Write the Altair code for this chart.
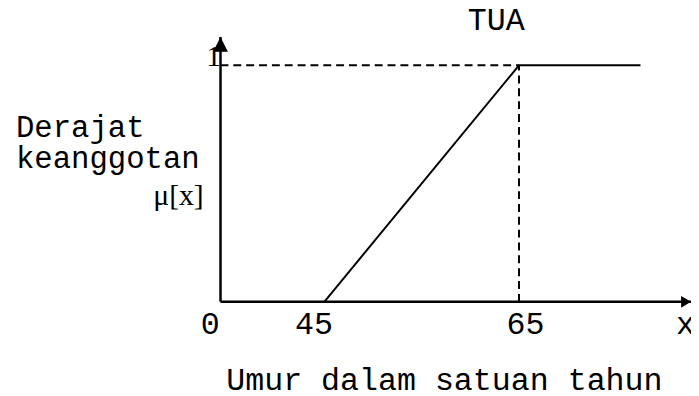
import altair as alt
import pandas as pd

# ---- data ----
x_ticks = [0, 45, 65]
x_end = 82.7            # end of the x axis (arrow tip)
y_end = 1.12            # end of the y axis (arrow tip)
y_ticks = [1]

curve_x = [45, 65, 77.5]
curve_y = [0, 1, 1]

guide_seg = ["h", "h", "v", "v"]
guide_x = [0, 65, 65, 65]
guide_y = [1, 1, 0, 1]

title_top = "TUA"
ylab_lines = ["Derajat", "keanggotan"]
ylab_mu = "μ[x]"
x_title = "Umur dalam satuan tahun"

MONO = "Liberation Mono"
SERIF = "Liberation Serif"
FS = 32

xscale = alt.Scale(domain=[0, 45, 65, x_end], range=[0, 105, 302, 476], nice=False, zero=False)
yscale = alt.Scale(domain=[0, y_end], nice=False, zero=False)

curve_df = pd.DataFrame({"x": curve_x, "y": curve_y})
guide_df = pd.DataFrame({"seg": guide_seg, "x": guide_x, "y": guide_y})
axes_df = pd.DataFrame({"seg": ["xa", "xa", "ya", "ya"],
                        "x": [0, x_end, 0, 0],
                        "y": [0, 0, 0, y_end]})
arrow_y = pd.DataFrame({"x": [0], "y": [y_end]})
arrow_x = pd.DataFrame({"x": [x_end], "y": [0]})

x_axis = alt.Axis(values=x_ticks + [x_end],
                  labelExpr="datum.value > 80 ? 'x' : datum.label",
                  labelFont=MONO, labelFontSize=FS, labelColor="black",
                  labelPadding=7, labelBaseline="top",
                  labelOffset={"condition": [{"test": "datum.value == 65", "value": 6},
                                             {"test": "datum.value > 80", "value": -6}],
                               "value": -11},
                  labelFlush=False, labelOverlap=False, labelBound=False,
                  domain=False, ticks=False, tickSize=0, grid=False,
                  title=x_title, titleFont=MONO, titleFontSize=FS,
                  titleFontWeight="normal", titleColor="black",
                  titleX=226, titleY=64, titleBaseline="top", titleAlign="center")
y_axis = alt.Axis(values=y_ticks, format="d", labelFont=SERIF, labelFontSize=30,
                  labelColor="black", labelBaseline="alphabetic", labelPadding=0,
                  labelFlush=False, labelOverlap=False, labelBound=False,
                  domain=False, ticks=False, tickSize=0, grid=False, title=None)

axes_lines = alt.Chart(axes_df).mark_line(color="black", strokeWidth=2.5).encode(
    x=alt.X("x:Q", scale=xscale, axis=x_axis),
    y=alt.Y("y:Q", scale=yscale, axis=y_axis),
    detail="seg:N",
)

arrow_up = alt.Chart(arrow_y).mark_point(
    shape="M0,0L-0.5,1L0.5,1Z", size=900, filled=True, color="black", opacity=1
).encode(x="x:Q", y="y:Q")

arrow_right = alt.Chart(arrow_x).mark_point(
    shape="M0,0L-1,-0.6L-1,0.6Z", size=400, filled=True, color="black", opacity=1
).encode(x="x:Q", y="y:Q")

guides = alt.Chart(guide_df).mark_line(color="black", strokeWidth=2, strokeDash=[8, 5]).encode(
    x="x:Q", y="y:Q", detail="seg:N"
)

curve = alt.Chart(curve_df).mark_line(color="black", strokeWidth=2).encode(
    x="x:Q", y="y:Q"
)

tua = alt.Chart(pd.DataFrame({"t": [title_top]})).mark_text(
    font=MONO, fontSize=FS, color="black", align="center", baseline="alphabetic"
).encode(text="t:N", x=alt.value(279), y=alt.value(-7))

ylab1 = alt.Chart(pd.DataFrame({"t": [ylab_lines[0]]})).mark_text(
    font=MONO, fontSize=31, color="black", align="left", baseline="alphabetic"
).encode(text="t:N", x=alt.value(-207), y=alt.value(101))

ylab2 = alt.Chart(pd.DataFrame({"t": [ylab_lines[1]]})).mark_text(
    font=MONO, fontSize=31, color="black", align="left", baseline="alphabetic"
).encode(text="t:N", x=alt.value(-207), y=alt.value(133))

ylab3 = alt.Chart(pd.DataFrame({"t": [ylab_mu]})).mark_text(
    font=SERIF, fontSize=30, color="black", align="right", baseline="alphabetic"
).encode(text="t:N", x=alt.value(-17), y=alt.value(170))

chart = alt.layer(
    axes_lines, guides, curve, arrow_up, arrow_right, tua, ylab1, ylab2, ylab3
).properties(
    width=476, height=268,
    autosize=alt.AutoSizeParams(type="none"),
    padding={"left": 215, "top": 27, "right": 0, "bottom": 93},
    background="white",
).configure_view(stroke=None)

chart.save("out.html", embed_options={"renderer": "svg", "actions": False})
